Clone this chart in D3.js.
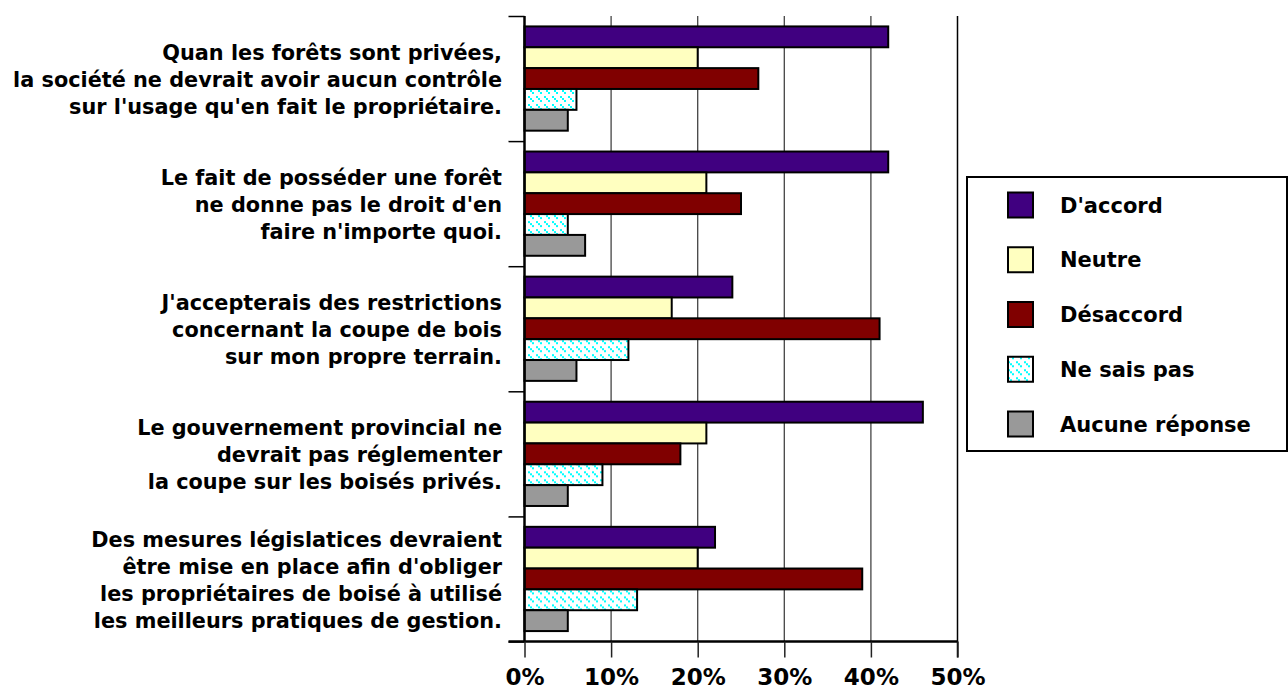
<!DOCTYPE html>
<html>
<head>
<meta charset="utf-8">
<script src="https://cdn.jsdelivr.net/npm/d3@7"></script>
<style>
  body { margin: 0; background: #fff; }
  text { font-family: "DejaVu Sans", Verdana, sans-serif; font-weight: bold; fill: #000; }
</style>
</head>
<body>
<svg id="chart" width="1288" height="689"></svg>
<script>
// statements (one entry per line of the label)
var categories = [
    ["Quan les forêts sont privées,", "la société ne devrait avoir aucun contrôle", "sur l'usage qu'en fait le propriétaire."],
    ["Le fait de posséder une forêt", "ne donne pas le droit d'en", "faire n'importe quoi."],
    ["J'accepterais des restrictions", "concernant la coupe de bois", "sur mon propre terrain."],
    ["Le gouvernement provincial ne", "devrait pas réglementer", "la coupe sur les boisés privés."],
    ["Des mesures législatices devraient", "être mise en place afin d'obliger", "les propriétaires de boisé à utilisé", "les meilleurs pratiques de gestion."]
];
var series = ["D'accord", "Neutre", "Désaccord", "Ne sais pas", "Aucune réponse"];
var dAccord    = [42, 42, 24, 46, 22];
var neutre     = [20, 21, 17, 21, 20];
var desaccord  = [27, 25, 41, 18, 39];
var neSaisPas  = [6, 5, 12, 9, 13];
var aucune     = [5, 7, 6, 5, 5];
var xTicks = [0, 10, 20, 30, 40, 50];

var values = [dAccord, neutre, desaccord, neSaisPas, aucune];
var fills = ["#400080", "#ffffc0", "#800000", "url(#nsp)", "#999999"];

var svg = d3.select("#chart");
var plotL = 524.5, plotR = 957.5, plotT = 16, plotB = 641.5;

var defs = svg.append("defs");
var pat = defs.append("pattern")
    .attr("id", "nsp")
    .attr("patternUnits", "userSpaceOnUse")
    .attr("width", 8).attr("height", 8);
pat.append("rect").attr("width", 8).attr("height", 8).attr("fill", "#fff");
[[0, 0], [2, 2], [4, 4]].forEach(function(p) {
    pat.append("rect").attr("x", p[0]).attr("y", p[1]).attr("width", 2).attr("height", 2).attr("fill", "#00ffff");
});

var x = d3.scaleLinear().domain([0, 50]).range([plotL, plotR]);
var y0 = d3.scaleBand().domain(d3.range(categories.length)).range([plotT, plotB]);
var y1 = d3.scaleBand().domain(d3.range(series.length)).range([0, y0.bandwidth()]).paddingOuter(0.5);

// grid lines
svg.append("g").selectAll("line")
    .data(xTicks.slice(1, -1))
    .join("line")
    .attr("x1", function(d) { return x(d); })
    .attr("x2", function(d) { return x(d); })
    .attr("y1", plotT).attr("y2", plotB)
    .attr("stroke", "#444").attr("stroke-width", 1.3);

// right edge line at 50%
svg.append("line")
    .attr("x1", x(50)).attr("x2", x(50))
    .attr("y1", plotT).attr("y2", plotB + 16)
    .attr("stroke", "#000").attr("stroke-width", 1.5);

// bars
var groups = svg.append("g").selectAll("g")
    .data(categories)
    .join("g")
    .attr("transform", function(d, i) { return "translate(0," + y0(i) + ")"; });

groups.selectAll("rect")
    .data(function(d, i) { return series.map(function(s, j) { return {j: j, v: values[j][i]}; }); })
    .join("rect")
    .attr("x", x(0))
    .attr("y", function(d) { return y1(d.j); })
    .attr("width", function(d) { return x(d.v) - x(0); })
    .attr("height", y1.bandwidth())
    .attr("fill", function(d) { return fills[d.j]; })
    .attr("stroke", "#000")
    .attr("stroke-width", 2);

// category labels
var lineH = 27;
groups.append("text")
    .attr("text-anchor", "end")
    .style("font-size", "20.8px")
    .each(function(d) {
        var t = d3.select(this);
        var c = y0.bandwidth() / 2 + 1 - (d.length - 1) * lineH / 2;
        d.forEach(function(line, k) {
            t.append("tspan")
                .attr("x", 502)
                .attr("y", c + k * lineH)
                .attr("dy", "0.36em")
                .text(line);
        });
    });

// y axis
var yAxis = d3.axisLeft(d3.scaleLinear().domain([0, categories.length]).range([plotT, plotB]))
    .ticks(categories.length)
    .tickSize(16)
    .tickFormat("");
svg.append("g")
    .attr("transform", "translate(" + plotL + ",0)")
    .call(yAxis)
    .call(function(g) {
        g.select(".domain").attr("stroke", "#000").attr("stroke-width", 2.5)
            .attr("d", "M0," + plotT + "V" + plotB);
        g.selectAll(".tick line").attr("stroke", "#000").attr("stroke-width", 1.5);
    });

// x axis
var xAxis = d3.axisBottom(x)
    .tickValues(xTicks)
    .tickSize(16)
    .tickPadding(11)
    .tickSizeOuter(0)
    .tickFormat(function(d) { return d + "%"; });
svg.append("g")
    .attr("transform", "translate(0," + plotB + ")")
    .call(xAxis)
    .call(function(g) {
        g.select(".domain").attr("stroke", "#000").attr("stroke-width", 2.5)
            .attr("d", "M" + (plotL - 16) + ",0H" + plotR);
        g.selectAll(".tick line").attr("stroke", "#222").attr("stroke-width", 1.5);
        g.selectAll(".tick text")
            .style("font-size", "23px")
            .style("font-family", "'DejaVu Sans', Verdana, sans-serif")
            .style("font-weight", "bold")
            .attr("fill", "#000");
    });

// legend
var legend = svg.append("g");
legend.append("rect")
    .attr("x", 967).attr("y", 177)
    .attr("width", 320).attr("height", 274)
    .attr("fill", "#fff").attr("stroke", "#000").attr("stroke-width", 2);

var ly = d3.scalePoint().domain(series).range([205, 424]);
var items = legend.selectAll("g.item")
    .data(series)
    .join("g")
    .attr("class", "item")
    .attr("transform", function(d) { return "translate(0," + ly(d) + ")"; });
items.append("rect")
    .attr("x", 1008).attr("y", -12.5)
    .attr("width", 25).attr("height", 25)
    .attr("fill", function(d, i) { return fills[i]; })
    .attr("stroke", "#000").attr("stroke-width", 2);
items.append("text")
    .attr("x", 1060)
    .attr("dy", "0.36em")
    .style("font-size", "21px")
    .text(function(d) { return d; });
</script>
</body>
</html>
